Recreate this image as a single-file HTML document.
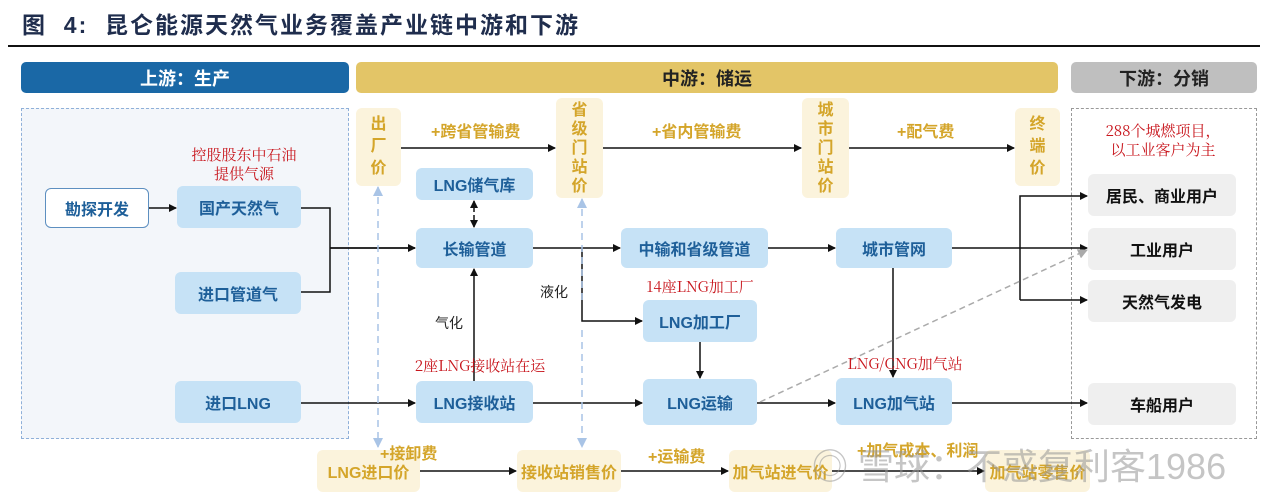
<!DOCTYPE html>
<html><head><meta charset="utf-8"><style>
*{margin:0;padding:0;box-sizing:border-box}
body{width:1277px;height:500px;background:#fff;position:relative;overflow:hidden;font-family:"Liberation Sans","Noto Sans CJK SC",sans-serif}
.a{position:absolute}
.n{position:absolute;display:flex;align-items:center;justify-content:center;border-radius:6px;font-weight:bold;font-size:16px}
.b{background:#c6e2f6;color:#1e5f99}
.g{background:#efefef;color:#111}
.y{background:#fbf3dc;color:#d4a52a}
.v{flex-direction:column;line-height:22px;font-size:16px}
.h{position:absolute;top:62px;height:31px;border-radius:5px;color:#fff;font-weight:bold;font-size:18px;display:flex;align-items:center;justify-content:center}
.r{position:absolute;color:#c8161d;font-family:"Noto Serif CJK SC","Liberation Serif",serif;font-size:15px;text-align:center;line-height:19px}
.p{position:absolute;color:#d4a52a;font-weight:bold;font-size:16px}
</style></head><body>
<div class="a" style="left:22px;top:6px;font-size:23px;font-weight:bold;color:#1f2d4d;letter-spacing:2px">图&nbsp; 4:&nbsp; 昆仑能源天然气业务覆盖产业链中游和下游</div>
<div class="a" style="left:8px;top:45px;width:1252px;height:2px;background:#111"></div>
<div class="h" style="left:21px;width:328px;background:#1a68a6">上游：生产</div>
<div class="h" style="left:356px;width:702px;background:#e3c567;color:#222">中游：储运</div>
<div class="h" style="left:1071px;width:186px;background:#bfbfbf;color:#222">下游：分销</div>
<div class="a" style="left:21px;top:108px;width:328px;height:331px;background:#f3f6fa;border:1px dashed #8fb0d9"></div>
<div class="a" style="left:1071px;top:108px;width:186px;height:331px;border:1px dashed #999"></div>

<svg class="a" style="left:0;top:0" width="1277" height="500">
<defs><marker id="m" markerWidth="8" markerHeight="8" refX="7" refY="4" orient="auto" markerUnits="userSpaceOnUse"><path d="M0,0L8,4L0,8z" fill="#111"/></marker>
<marker id="mb" markerWidth="10" markerHeight="10" refX="9" refY="5" orient="auto" markerUnits="userSpaceOnUse"><path d="M0,0L10,5L0,10z" fill="#a9c4e6"/></marker>
<marker id="mg" markerWidth="10" markerHeight="10" refX="9" refY="5" orient="auto" markerUnits="userSpaceOnUse"><path d="M0,0L10,5L0,10z" fill="#aaa"/></marker></defs>
<g stroke="#111" stroke-width="1.5" fill="none">
<path d="M149,208H176" marker-end="url(#m)"/>
<path d="M301,208H330V292H301M330,248H415" />
<path d="M330,248H415" marker-end="url(#m)"/>
<path d="M533,248H620" marker-end="url(#m)"/>
<path d="M768,248H835" marker-end="url(#m)"/>
<path d="M952,248H1087" marker-end="url(#m)"/>
<path d="M1020,300V196H1087" marker-end="url(#m)"/>
<path d="M1020,300H1087" marker-end="url(#m)"/>
<path d="M893,268V377" marker-end="url(#m)"/>
<path d="M582,248V321H642" marker-end="url(#m)"/>
<path d="M474,212V201" marker-end="url(#m)"/>
<path d="M474,215V227" marker-end="url(#m)"/>
<path d="M474,381V269" marker-end="url(#m)"/>
<path d="M301,403H415" marker-end="url(#m)"/>
<path d="M533,403H642" marker-end="url(#m)"/>
<path d="M757,403H835" marker-end="url(#m)"/>
<path d="M952,403H1087" marker-end="url(#m)"/>
<path d="M700,342V378" marker-end="url(#m)"/>
<path d="M401,148H555" marker-end="url(#m)"/>
<path d="M603,148H801" marker-end="url(#m)"/>
<path d="M849,148H1014" marker-end="url(#m)"/>
<path d="M420,471H516" marker-end="url(#m)"/>
<path d="M621,471H728" marker-end="url(#m)"/>
<path d="M832,471H984" marker-end="url(#m)"/>
</g>
<path d="M760,402L1087,250" stroke="#aaa" stroke-width="1.5" stroke-dasharray="6,4" fill="none" marker-end="url(#mg)"/>
<g stroke="#a9c4e6" stroke-width="1.5" stroke-dasharray="7,5" fill="none">
<path d="M378,300V187" marker-end="url(#mb)"/><path d="M378,300V447" marker-end="url(#mb)"/>
<path d="M582,300V199" marker-end="url(#mb)"/><path d="M582,330V447" marker-end="url(#mb)"/>
</g>
</svg>

<div class="n" style="left:45px;top:188px;width:104px;height:40px;background:#fff;border:1px solid #5d8fc0;color:#1e5f99">勘探开发</div>
<div class="n b" style="left:177px;top:186px;width:124px;height:42px">国产天然气</div>
<div class="n b" style="left:175px;top:272px;width:126px;height:42px">进口管道气</div>
<div class="n b" style="left:175px;top:381px;width:126px;height:42px">进口LNG</div>
<div class="n b" style="left:416px;top:168px;width:117px;height:32px">LNG储气库</div>
<div class="n b" style="left:416px;top:228px;width:117px;height:40px">长输管道</div>
<div class="n b" style="left:621px;top:228px;width:147px;height:40px">中输和省级管道</div>
<div class="n b" style="left:836px;top:228px;width:116px;height:40px">城市管网</div>
<div class="n b" style="left:643px;top:300px;width:114px;height:42px">LNG加工厂</div>
<div class="n b" style="left:416px;top:381px;width:117px;height:42px">LNG接收站</div>
<div class="n b" style="left:643px;top:379px;width:114px;height:46px">LNG运输</div>
<div class="n b" style="left:836px;top:378px;width:116px;height:47px">LNG加气站</div>
<div class="n g" style="left:1088px;top:174px;width:148px;height:42px">居民、商业用户</div>
<div class="n g" style="left:1088px;top:228px;width:148px;height:42px">工业用户</div>
<div class="n g" style="left:1088px;top:280px;width:148px;height:42px">天然气发电</div>
<div class="n g" style="left:1088px;top:383px;width:148px;height:42px">车船用户</div>
<div class="n y v" style="left:356px;top:108px;width:45px;height:78px">出<br>厂<br>价</div>
<div class="n y v" style="left:556px;top:98px;width:47px;height:100px;line-height:19px">省<br>级<br>门<br>站<br>价</div>
<div class="n y v" style="left:802px;top:98px;width:47px;height:100px;line-height:19px">城<br>市<br>门<br>站<br>价</div>
<div class="n y v" style="left:1015px;top:108px;width:45px;height:78px">终<br>端<br>价</div>
<div class="n y" style="left:317px;top:450px;width:103px;height:42px">LNG进口价</div>
<div class="n y" style="left:517px;top:450px;width:104px;height:42px">接收站销售价</div>
<div class="n y" style="left:729px;top:450px;width:103px;height:42px">加气站进气价</div>
<div class="n y" style="left:985px;top:450px;width:105px;height:42px">加气站零售价</div>
<div class="p" style="left:431px;top:118px">+跨省管输费</div>
<div class="p" style="left:652px;top:118px">+省内管输费</div>
<div class="p" style="left:897px;top:118px">+配气费</div>
<div class="p" style="left:380px;top:440px">+接卸费</div>
<div class="p" style="left:648px;top:443px">+运输费</div>
<div class="p" style="left:857px;top:437px">+加气成本、利润</div>
<div class="r" style="left:170px;top:145px;width:148px">控股股东中石油<br>提供气源</div>
<div class="r" style="left:1085px;top:121px;width:156px">288个城燃项目，<br>以工业客户为主</div>
<div class="r" style="left:630px;top:277px;width:140px">14座LNG加工厂</div>
<div class="r" style="left:400px;top:356px;width:160px">2座LNG接收站在运</div>
<div class="r" style="left:830px;top:354px;width:150px">LNG/CNG加气站</div>
<div class="a" style="left:435px;top:313px;font-size:14px;color:#222">气化</div>
<div class="a" style="left:540px;top:282px;font-size:14px;color:#222">液化</div>
<div class="a" style="left:812px;top:438px;font-size:36px;color:rgba(150,150,150,0.55);white-space:nowrap">◎ 雪球：不惑复利客1986</div>
</body></html>
